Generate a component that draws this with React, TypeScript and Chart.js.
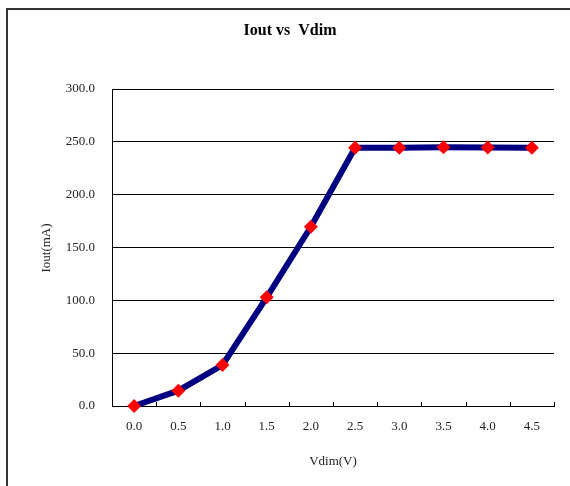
import React, { useEffect, useRef } from "react";
import { Chart, registerables } from "chart.js";

Chart.register(...registerables);

const categories = ["0.0", "0.5", "1.0", "1.5", "2.0", "2.5", "3.0", "3.5", "4.0", "4.5"];
const ioutValues = [0, 14.5, 38.8, 102.8, 169.6, 244.4, 244.4, 244.9, 244.7, 244.4];
const titleText = "Iout vs  Vdim";
const xTitle = "Vdim(V)";
const yTitle = "Iout(mA)";
const yMin = 0;
const yMax = 300;
const yStep = 50;

const FONT = "'Liberation Serif', 'DejaVu Serif', serif";

const decorPlugin = {
  id: "decor",
  afterDraw(chart: any) {
    const { ctx, chartArea } = chart;
    ctx.save();
    // outer frame
    ctx.strokeStyle = "#333";
    ctx.lineWidth = 2;
    ctx.strokeRect(7, 9, 700, 700);
    // inward x-axis tick marks at category boundaries
    const n = categories.length;
    const w = (chartArea.right - chartArea.left) / n;
    ctx.strokeStyle = "#000";
    ctx.lineWidth = 1;
    ctx.beginPath();
    for (let i = 1; i <= n; i++) {
      const x = Math.round(chartArea.left + i * w) + 0.5;
      ctx.moveTo(x, chartArea.bottom - 4);
      ctx.lineTo(x, chartArea.bottom);
    }
    ctx.stroke();
    // chart title
    ctx.fillStyle = "#000";
    ctx.font = `bold 16px ${FONT}`;
    ctx.textAlign = "center";
    ctx.textBaseline = "middle";
    ctx.fillText(titleText, 290, 31);
    // y axis title
    ctx.fillStyle = "#222";
    ctx.font = `13px ${FONT}`;
    ctx.translate(47, 248);
    ctx.rotate(-Math.PI / 2);
    ctx.fillText(yTitle, 0, 0);
    ctx.restore();
  },
};

export default function App() {
  const ref = useRef<HTMLCanvasElement>(null);
  useEffect(() => {
    if (!ref.current) return;
    const chart = new Chart(ref.current, {
      type: "line",
      data: {
        labels: categories,
        datasets: [
          {
            data: ioutValues,
            borderColor: "#000080",
            borderWidth: 6,
            pointStyle: "rectRot",
            pointRadius: 7,
            pointBackgroundColor: "#ff0000",
            pointBorderWidth: 0,
            pointBorderColor: "#ff0000",
            tension: 0,
            clip: false as any,
          },
        ],
      },
      options: {
        animation: false,
        responsive: false,
        devicePixelRatio: 1,
        layout: { padding: { left: 0, right: 16, top: 89, bottom: 0 } },
        plugins: {
          legend: { display: false },
          tooltip: { enabled: false },
          title: { display: false },
        },
        scales: {
          x: {
            type: "category",
            offset: true,
            grid: { display: false, drawTicks: false },
            border: { display: true, color: "#000", width: 1 },
            ticks: { color: "#222", font: { family: FONT, size: 13 }, padding: 13, maxRotation: 0 },
            title: {
              display: true,
              text: xTitle,
              color: "#222",
              font: { family: FONT, size: 13 },
              padding: { top: 0, bottom: 17 },
            },
            afterFit: (s: any) => {
              s.height = 80;
            },
          },
          y: {
            min: yMin,
            max: yMax,
            grid: { color: "#000", lineWidth: 1, drawTicks: false },
            border: { display: true, color: "#000", width: 1 },
            ticks: {
              stepSize: yStep,
              color: "#222",
              font: { family: FONT, size: 13 },
              padding: 17,
              callback: (v: any) => Number(v).toFixed(1),
            },
            afterFit: (s: any) => {
              s.width = 112;
            },
          },
        },
      },
      plugins: [decorPlugin],
    });
    return () => chart.destroy();
  }, []);
  return (
    <div style={{ position: "absolute", left: 0, top: 0, width: 570, height: 486, background: "#fff" }}>
      <canvas ref={ref} width={570} height={486} />
    </div>
  );
}
